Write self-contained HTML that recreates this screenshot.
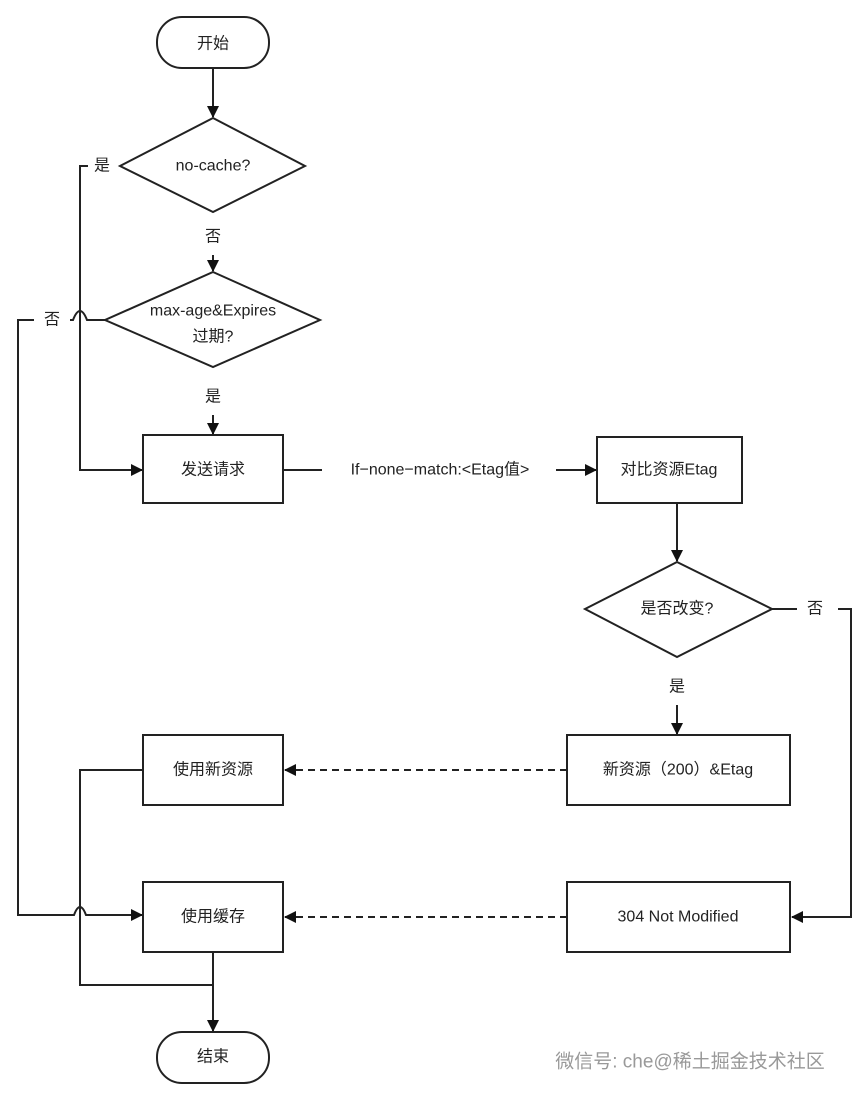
<!DOCTYPE html>
<html><head><meta charset="utf-8"><style>
html,body{margin:0;padding:0;background:#fff;}
svg{display:block;}
text{font-family:"Liberation Sans","Noto Sans CJK SC",sans-serif;font-size:16px;fill:#222;text-anchor:middle;dominant-baseline:central;}
</style></head><body>
<svg width="864" height="1100" viewBox="0 0 864 1100" xmlns="http://www.w3.org/2000/svg">
<defs>
<marker id="a" markerWidth="12" markerHeight="12" refX="11" refY="6" orient="auto" markerUnits="userSpaceOnUse">
<path d="M0,0 L12,6 L0,12 z" fill="#111"/></marker>
</defs>
<g stroke="#222" stroke-width="2" fill="none">
<rect x="157" y="17" width="112" height="51" rx="25" fill="#fff"/>
<line x1="213" y1="68" x2="213" y2="117" marker-end="url(#a)"/>
<polygon points="213,118 305,166 213,212 120,166" fill="#fff"/>
<line x1="213" y1="255" x2="213" y2="271" marker-end="url(#a)"/>
<polygon points="213,272 320,320 213,367 105,320" fill="#fff"/>
<line x1="213" y1="415" x2="213" y2="434" marker-end="url(#a)"/>
<path d="M88,166 H80 V470 H142" marker-end="url(#a)"/>
<path d="M105,320 H87 Q80,302 73,320 H70"/>
<path d="M34,320 H18 V915 H74 Q80,899 86,915 H142" marker-end="url(#a)"/>
<rect x="143" y="435" width="140" height="68" fill="#fff"/>
<line x1="283" y1="470" x2="322" y2="470"/>
<line x1="556" y1="470" x2="596" y2="470" marker-end="url(#a)"/>
<rect x="597" y="437" width="145" height="66" fill="#fff"/>
<line x1="677" y1="503" x2="677" y2="561" marker-end="url(#a)"/>
<polygon points="677,562 772,609 677,657 585,609" fill="#fff"/>
<line x1="772" y1="609" x2="797" y2="609"/>
<path d="M838,609 H851 V917 H792" marker-end="url(#a)"/>
<line x1="677" y1="705" x2="677" y2="734" marker-end="url(#a)"/>
<rect x="567" y="735" width="223" height="70" fill="#fff"/>
<rect x="567" y="882" width="223" height="70" fill="#fff"/>
<rect x="143" y="735" width="140" height="70" fill="#fff"/>
<rect x="143" y="882" width="140" height="70" fill="#fff"/>
<line x1="567" y1="770" x2="285" y2="770" stroke-dasharray="7,5" marker-end="url(#a)"/>
<line x1="567" y1="917" x2="285" y2="917" stroke-dasharray="7,5" marker-end="url(#a)"/>
<path d="M143,770 H80 V985 H213"/>
<line x1="213" y1="952" x2="213" y2="1031" marker-end="url(#a)"/>
<rect x="157" y="1032" width="112" height="51" rx="25" fill="#fff"/>
</g>
<text x="213" y="44">开始</text>
<text x="213" y="166">no-cache?</text>
<text x="102" y="166">是</text>
<text x="213" y="237">否</text>
<text x="213" y="311">max-age&amp;Expires</text>
<text x="213" y="337">过期?</text>
<text x="52" y="320">否</text>
<text x="213" y="397">是</text>
<text x="213" y="470">发送请求</text>
<text x="440" y="470">If−none−match:&lt;Etag值&gt;</text>
<text x="669" y="470">对比资源Etag</text>
<text x="677" y="609">是否改变?</text>
<text x="815" y="609">否</text>
<text x="677" y="687">是</text>
<text x="678" y="770">新资源（200）&amp;Etag</text>
<text x="678" y="917">304 Not Modified</text>
<text x="213" y="770">使用新资源</text>
<text x="213" y="917">使用缓存</text>
<text x="213" y="1057">结束</text>
<text x="690" y="1062" style="fill:#999;font-size:19px">微信号: che@稀土掘金技术社区</text>
</svg>
</body></html>
